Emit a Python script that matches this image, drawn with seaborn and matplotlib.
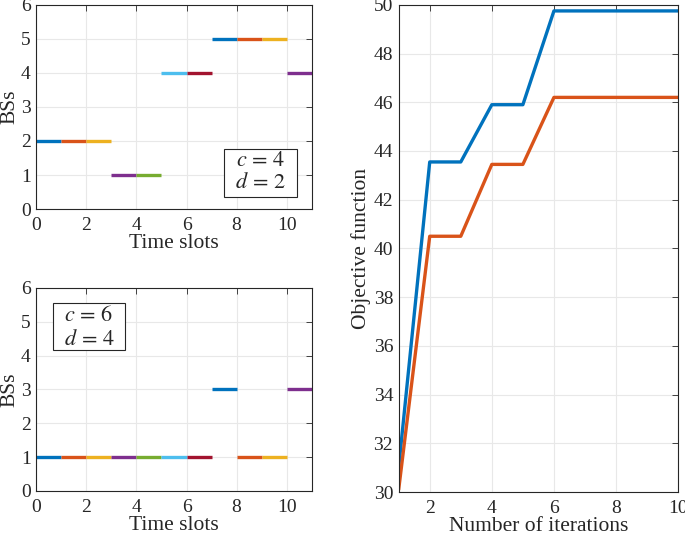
import numpy as np
import pandas as pd
import matplotlib
matplotlib.use("Agg")
import matplotlib.pyplot as plt
from matplotlib.patches import Rectangle
import seaborn as sns

# ---- data ----
slots = list(range(11))
bs_top = [2, 2, 2, 1, 1, 4, 4, 5, 5, 5, 4]
bs_bottom = [1, 1, 1, 1, 1, 1, 1, 3, 1, 1, 3]
iterations = [1, 2, 3, 4, 5, 6, 7, 8, 9, 10]
obj_blue = [31.0, 43.55, 43.55, 45.9, 45.9, 49.75, 49.75, 49.75, 49.75, 49.75]
obj_orange = [30.1, 40.5, 40.5, 43.45, 43.45, 46.2, 46.2, 46.2, 46.2, 46.2]
matlab_colors = ["#0072BD", "#D95319", "#EDB120", "#7E2F8E", "#77AC30", "#4DBEEE", "#A2142F"]

sns.set_theme(style="whitegrid")
plt.rcParams['font.family'] = ['Liberation Serif', 'DejaVu Serif']
plt.rcParams['mathtext.fontset'] = 'stix'
plt.rcParams.update({
    'axes.edgecolor': '#262626', 'axes.linewidth': 0.8,
    'grid.color': '#e8e8e8', 'grid.linewidth': 0.8,
    'xtick.direction': 'in', 'ytick.direction': 'in',
    'xtick.top': True, 'ytick.right': True,
    'xtick.major.size': 4, 'ytick.major.size': 4,
    'xtick.major.width': 0.6, 'ytick.major.width': 0.6,
    'xtick.color': '#262626', 'ytick.color': '#262626',
    'xtick.labelcolor': '#262626', 'ytick.labelcolor': '#262626',
    'font.size': 14,
})

fig = plt.figure(figsize=(6.85, 5.36), dpi=100)
ax1 = fig.add_axes([0.053, 0.610, 0.402, 0.381])
ax2 = fig.add_axes([0.053, 0.084, 0.402, 0.379])
ax3 = fig.add_axes([0.582, 0.082, 0.408, 0.909])

def draw_slots(ax, vals):
    for t, v in zip(slots, vals):
        df = pd.DataFrame({"x": [t, t + 1], "y": [v, v]})
        sns.lineplot(data=df, x="x", y="y", ax=ax, color=matlab_colors[t % 7],
                     linewidth=2.4, solid_capstyle='butt')
    ax.set_xlim(0, 11)
    ax.set_ylim(0, 6)
    ax.set_xticks([0, 2, 4, 6, 8, 10])
    ax.set_yticks([0, 1, 2, 3, 4, 5, 6])
    ax.set_xlabel("Time slots", fontsize=15.5, labelpad=0)
    ax.set_ylabel("BSs", fontsize=15.5, labelpad=1)
    ax.tick_params(axis='x', labelsize=14, pad=6)
    ax.tick_params(axis='y', labelsize=14, pad=4)

draw_slots(ax1, bs_top)
draw_slots(ax2, bs_bottom)

def param_box(ax, x0, x1, y0, y1, xc, yc1, yc2, t1, t2):
    ax.add_patch(Rectangle((x0, y0), x1 - x0, y1 - y0, facecolor='white',
                           edgecolor='#262626', linewidth=0.8, zorder=5))
    ax.text(xc, yc1, t1, ha='center', va='center', fontsize=16, zorder=6)
    ax.text(xc, yc2, t2, ha='center', va='center', fontsize=16, zorder=6)

param_box(ax1, 7.51, 10.40, 0.35, 1.76, 8.95, 1.41, 0.77, r"$c\,=\,4$", r"$d\,=\,2$")
param_box(ax2, 0.68, 3.53, 4.15, 5.56, 2.1, 5.18, 4.47, r"$c\,=\,6$", r"$d\,=\,4$")

df3 = pd.DataFrame({"it": iterations, "blue": obj_blue, "orange": obj_orange})
sns.lineplot(data=df3, x="it", y="blue", ax=ax3, color=matlab_colors[0], linewidth=2.4)
sns.lineplot(data=df3, x="it", y="orange", ax=ax3, color=matlab_colors[1], linewidth=2.4)
ax3.set_xlim(1, 10)
ax3.set_ylim(30, 50)
ax3.set_xticks([2, 4, 6, 8, 10])
ax3.set_yticks(np.arange(30, 51, 2))
ax3.set_xlabel("Number of iterations", fontsize=15.5, labelpad=0)
ax3.set_ylabel("Objective function", fontsize=15.5, labelpad=2)
ax3.tick_params(axis='x', labelsize=14, pad=6)
ax3.tick_params(axis='y', labelsize=14, pad=4)

for ax in (ax1, ax2, ax3):
    for s in ax.spines.values():
        s.set_visible(True)
        s.set_color('#262626')

fig.savefig("out.png", dpi=100)
